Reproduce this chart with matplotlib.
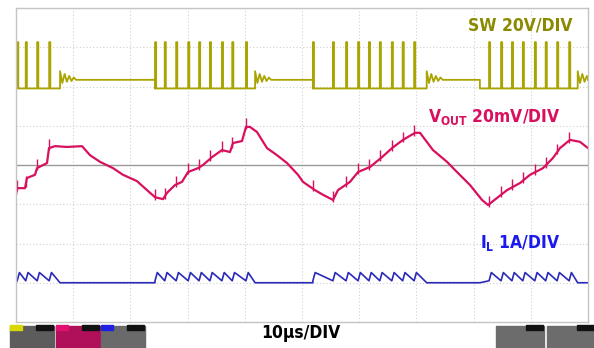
import numpy as np
import matplotlib.pyplot as plt
from matplotlib.patches import Rectangle

plt.rcParams['font.family'] = ['DejaVu Sans']
plt.rcParams['font.stretch'] = 'condensed'
plt.rcParams['mathtext.fontset'] = 'custom'
plt.rcParams['mathtext.bf'] = 'DejaVu Sans:bold'
plt.rcParams['mathtext.rm'] = 'DejaVu Sans'

# --- data (time in us, 10us/DIV; levels in divisions) ---
sw_pulses = [0.2, 1.7, 3.7, 5.8,
             24.3, 26.0, 28.0, 30.1, 32.0, 33.9, 36.0, 37.8, 40.2,
             51.9, 55.4, 57.7, 59.8, 61.7, 63.6, 65.7, 67.6, 69.6,
             82.7, 84.8, 86.7, 88.6, 90.7, 92.6, 94.6, 96.7]
burst_start = [0.0, 24.3, 51.9, 81.1]
idle_start = [7.7, 41.8, 71.8, 98.2]
sw_low, sw_idle, sw_high = 1.95, 2.17, 3.13
sw_ring = [0.22, -0.08, 0.15, -0.05, 0.1, -0.03, 0.06, 0.0]

il_base, il_valley, il_peak = -3.0, -2.95, -2.74

vout_t = [0.0, 0.17, 1.57, 1.92, 3.32, 3.67, 5.42, 5.77, 6.82, 8.92, 11.54,
          12.94, 14.69, 16.96, 18.71, 21.15, 22.90, 24.30, 25.70, 26.40,
          27.80, 29.02, 30.07, 31.82, 32.69, 34.27, 36.01, 37.41, 37.94,
          39.51, 40.21, 40.91, 42.13, 43.88, 45.63, 47.38, 49.30, 50.17,
          52.27, 53.67, 55.42, 56.29, 58.39, 59.79, 61.89, 63.99, 65.73,
          67.66, 69.76, 70.63, 72.90, 75.35, 77.10, 79.37, 81.47, 82.52,
          84.09, 85.84, 88.11, 89.86, 92.13, 93.88, 95.10, 96.85, 98.60, 100.0]
vout_v = [-0.76, -0.59, -0.59, -0.33, -0.25, -0.08, 0.05, 0.43, 0.48, 0.46, 0.48,
          0.25, 0.08, -0.08, -0.25, -0.41, -0.64, -0.82, -0.87, -0.71,
          -0.51, -0.43, -0.18, -0.08, 0.0, 0.20, 0.38, 0.33, 0.56,
          0.61, 0.97, 0.97, 0.84, 0.43, 0.25, 0.05, -0.25, -0.43,
          -0.64, -0.76, -0.89, -0.64, -0.43, -0.18, -0.05, 0.20, 0.43,
          0.64, 0.82, 0.82, 0.38, 0.08, -0.18, -0.51, -0.89, -1.02,
          -0.84, -0.64, -0.46, -0.25, -0.08, 0.18, 0.43, 0.64, 0.59, 0.43]

sw_color = '#a9a400'
vout_color = '#d8105e'
il_color = '#2a2ab8'

# --- build traces from the pulse list ---
sw_t, sw_v = [], []
il_t, il_v = [], []
for i, (b0, b1) in enumerate(zip(burst_start, idle_start)):
    pulses = [p for p in sw_pulses if b0 <= p < b1]
    if i > 0:
        sw_t.append(b0)
        sw_v.append(sw_idle)
    sw_t.append(b0)
    sw_v.append(sw_low)
    il_t.append(b0)
    il_v.append(il_base)
    for p in pulses:
        sw_t += [p, p, p + 0.2, p + 0.2]
        sw_v += [sw_low, sw_high, sw_high, sw_low]
        il_t += [p, p + 0.4]
        il_v += [il_valley, il_peak]
    sw_t.append(b1)
    sw_v.append(sw_low)
    il_t.append(b1)
    il_v.append(il_base)
    for j, r in enumerate(sw_ring):
        sw_t.append(b1 + 0.4 * j)
        sw_v.append(sw_idle + r)
sw_t.append(100.0)
sw_v.append(sw_idle)
il_t.append(100.0)
il_v.append(il_base)

fig = plt.figure(figsize=(5.94, 3.48), dpi=100)
W, H = 594.0, 348.0
ax = fig.add_axes([16 / W, 1 - 322 / H, 572 / W, 314 / H])
ax.set_xlim(0, 100)
ax.set_ylim(-4, 4)
ax.set_xticks([])
ax.set_yticks([])
for s in ax.spines.values():
    s.set_color('#c4c4c4')
    s.set_linewidth(1.0)

# graticule
for k in range(1, 10):
    ax.axvline(k * 10, color='#d0d0d0', lw=0.8, ls=(0, (1, 2)), zorder=0)
for k in range(-3, 4):
    if k != 0:
        ax.axhline(k, color='#d0d0d0', lw=0.8, ls=(0, (1, 2)), zorder=0)
ax.axhline(0, color='#9a9a9a', lw=1.0, zorder=0)

ax.plot(sw_t, sw_v, color=sw_color, lw=1.3)
ax.plot(il_t, il_v, color=il_color, lw=1.2)
ax.plot(vout_t, vout_v, color=vout_color, lw=1.6)
# switching spikes on the output
vp = np.interp(sw_pulses, vout_t, vout_v)
ax.vlines(sw_pulses, vp - 0.06, vp + 0.22, color=vout_color, lw=1.0)


def px(x, y):
    return x / W, 1 - y / H


fs = 12.5
fig.text(*px(468, 25), 'SW 20V/DIV', color='#8a8a00', fontsize=fs,
         fontweight='bold', va='center', ha='left')
fig.text(*px(428, 117), r'V$_{\mathbf{OUT}}$ 20mV/DIV', color=vout_color,
         fontsize=fs, fontweight='bold', va='center', ha='left')
fig.text(*px(480, 243), r'I$_{\mathbf{L}}$ 1A/DIV', color='#1a1aee',
         fontsize=fs, fontweight='bold', va='center', ha='left')
fig.text(*px(301, 333), '10µs/DIV', color='black', fontsize=fs,
         fontweight='bold', va='center', ha='center')

# scope status boxes
boxes = [(10, '#d8d800', '#5c5c5c'), (56, '#e01070', '#b0105a'),
         (101, '#2020e0', '#6a6a6a')]
for x0, head, body in boxes:
    fig.patches.append(Rectangle(px(x0, 348), 44 / W, 22 / H,
                                 transform=fig.transFigure, color=body))
    fig.patches.append(Rectangle(px(x0, 330), 12 / W, 5 / H,
                                 transform=fig.transFigure, color=head))
    fig.patches.append(Rectangle(px(x0 + 26, 330), 17 / W, 5 / H,
                                 transform=fig.transFigure, color='#111111'))
for x0 in (496, 547):
    fig.patches.append(Rectangle(px(x0, 348), 48 / W, 22 / H,
                                 transform=fig.transFigure, color='#6c6c6c'))
    fig.patches.append(Rectangle(px(x0 + 30, 330), 17 / W, 5 / H,
                                 transform=fig.transFigure, color='#111111'))

fig.savefig('out.png', dpi=100)
